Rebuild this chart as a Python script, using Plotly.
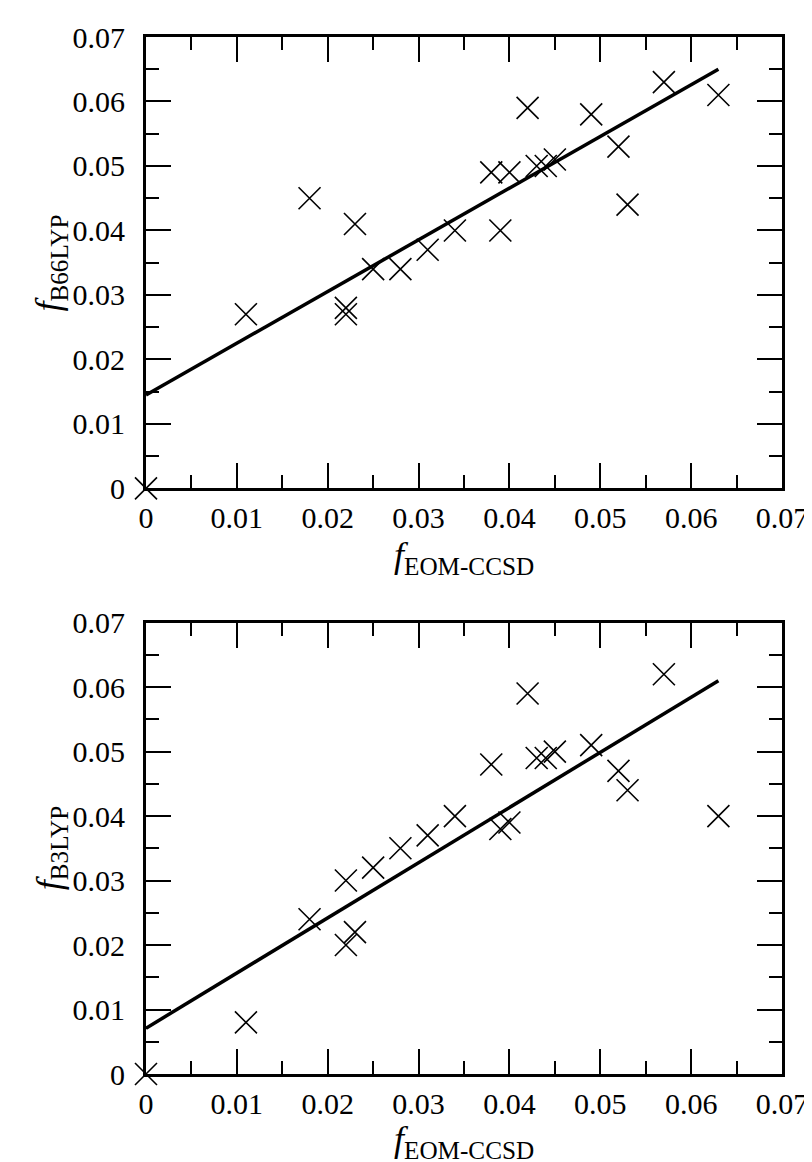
import plotly.graph_objects as go

# EOM-CCSD oscillator strengths (x, shared by both panels)
f_eom = [0.0, 0.011, 0.018, 0.022, 0.022, 0.023, 0.025, 0.028, 0.031, 0.034, 0.038,
         0.039, 0.040, 0.042, 0.043, 0.044, 0.045, 0.049, 0.052, 0.053, 0.057, 0.063]
# B66LYP values (top panel)
f_b66 = [0.0, 0.027, 0.045, 0.028, 0.027, 0.041, 0.034, 0.034, 0.037, 0.040, 0.049,
         0.040, 0.049, 0.059, 0.050, 0.050, 0.051, 0.058, 0.053, 0.044, 0.063, 0.061]
# B3LYP values (bottom panel)
f_b3 = [0.0, 0.008, 0.024, 0.030, 0.020, 0.022, 0.032, 0.035, 0.037, 0.040, 0.048,
        0.038, 0.039, 0.059, 0.049, 0.049, 0.050, 0.051, 0.047, 0.044, 0.062, 0.040]

# linear fits (intercept, slope)
fit_b66 = [0.0145, 0.8016]
fit_b3 = [0.0071, 0.8556]

tick_vals = [0, 0.01, 0.02, 0.03, 0.04, 0.05, 0.06, 0.07]
tick_text = ["0", "0.01", "0.02", "0.03", "0.04", "0.05", "0.06", "0.07"]

x_title = "<i>f</i><sub>EOM-CCSD</sub>"
y_titles = ["<i>f</i><sub>B66LYP</sub>", "<i>f</i><sub>B3LYP</sub>"]

FONT = "Liberation Serif, Times New Roman, serif"
W, H = 812, 1162
ML, MR, MT, MB = 138, 32, 23, 96
plot_h = H - MT - MB
plot_w = W - ML - MR
panel_h = 454
frac = panel_h / plot_h

fig = go.Figure()

def add_panel(yvals, fit, xa, ya):
    fig.add_trace(go.Scatter(
        x=f_eom, y=yvals, mode="markers", xaxis=xa, yaxis=ya,
        marker=dict(symbol="x-thin-open", size=22, color="black",
                    line=dict(width=1.6, color="black")),
        cliponaxis=False, showlegend=False))
    x_line = [0.0, max(f_eom)]
    y_line = [fit[0] + fit[1] * v for v in x_line]
    fig.add_trace(go.Scatter(
        x=x_line, y=y_line, mode="lines", xaxis=xa, yaxis=ya,
        line=dict(color="black", width=3.5), showlegend=False))

add_panel(f_b66, fit_b66, "x", "y")
add_panel(f_b3, fit_b3, "x2", "y2")

def axis_style(label_pad):
    return dict(
        range=[0, 0.07], tickvals=tick_vals, ticktext=tick_text,
        ticks="inside", ticklen=25, tickwidth=2, tickcolor="black",
        minor=dict(ticks="inside", ticklen=13, tickwidth=2, tickcolor="black",
                   dtick=0.005, tick0=0),
        showline=True, linewidth=3, linecolor="black", mirror="ticks",
        showgrid=False, zeroline=False, ticklabeloverflow="allow",
        ticklabelstandoff=label_pad,
        tickfont=dict(family=FONT, size=30, color="black"),
    )

fig.update_layout(
    width=W, height=H,
    margin=dict(l=ML, r=MR, t=MT, b=MB),
    paper_bgcolor="white", plot_bgcolor="white",
    xaxis=dict(axis_style(1), domain=[0, 1], anchor="y"),
    yaxis=dict(axis_style(12), domain=[1 - frac, 1], anchor="x"),
    xaxis2=dict(axis_style(1), domain=[0, 1], anchor="y2"),
    yaxis2=dict(axis_style(12), domain=[0, frac], anchor="x2"),
)

def py(pix):  # pixel row -> paper y
    return 1 - (pix - MT) / plot_h

def px(pix):  # pixel column -> paper x
    return (pix - ML) / plot_w

title_font = dict(family=FONT, size=36, color="black")
# x-axis titles (top panel and bottom panel)
for top_pix in (522, 1109):
    fig.add_annotation(text=x_title, xref="paper", yref="paper",
                       x=0.5, y=py(top_pix), xanchor="center", yanchor="top",
                       showarrow=False, font=title_font)
# y-axis titles
for title, center_pix in zip(y_titles, (250, 839)):
    fig.add_annotation(text=title, xref="paper", yref="paper",
                       x=px(42), y=py(center_pix), xanchor="center", yanchor="middle",
                       textangle=-90, showarrow=False, font=title_font)

fig.write_html("out.html")
